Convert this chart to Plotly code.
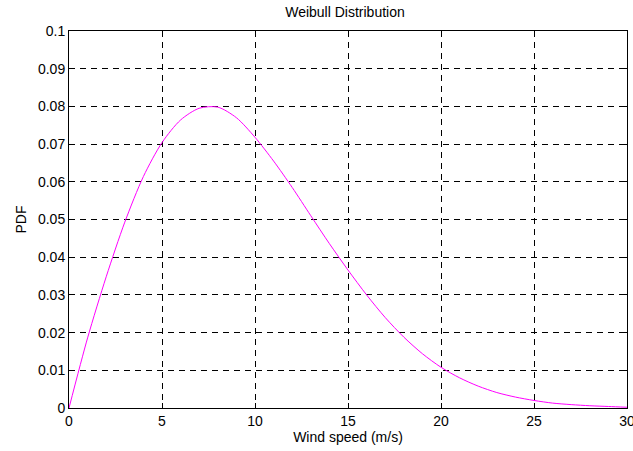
import plotly.graph_objects as go

# Wind speed samples (m/s) and the Weibull probability density read at each
wind_speed = [0, 1, 2, 3, 4, 5, 6, 7, 8, 9, 10, 11, 12, 13, 14, 15,
              16, 17, 18, 19, 20, 21, 22, 23, 24, 25, 26, 27, 28, 29, 30]
pdf_values = [0.0000, 0.0186, 0.0348, 0.0493, 0.0614, 0.0704, 0.0764, 0.0795,
              0.0798, 0.0770, 0.0718, 0.0655, 0.0585, 0.0510, 0.0436, 0.0366,
              0.0300, 0.0240, 0.0188, 0.0144, 0.0108, 0.0080, 0.0058, 0.0041,
              0.0029, 0.0020, 0.0013, 0.0009, 0.0006, 0.0004, 0.0002]

x_ticks = [0, 5, 10, 15, 20, 25, 30]
x_tick_text = ["0", "5", "10", "15", "20", "25", "30"]
y_ticks = [0, 0.01, 0.02, 0.03, 0.04, 0.05, 0.06, 0.07, 0.08, 0.09, 0.1]
y_tick_text = ["0", "0.01", "0.02", "0.03", "0.04", "0.05", "0.06",
               "0.07", "0.08", "0.09", "0.1"]

FONT = "Liberation Sans, Arial, sans-serif"
FS = 14

fig = go.Figure()
fig.add_trace(go.Scatter(
    x=wind_speed, y=pdf_values, mode="lines",
    line=dict(color="#FF00FF", width=1, shape="spline", smoothing=0.8),
    showlegend=False, hoverinfo="skip",
))

axis_common = dict(
    showline=True, linecolor="black", linewidth=1, mirror="allticks",
    ticks="inside", ticklen=5, tickcolor="black", tickwidth=1,
    showgrid=True, gridcolor="black", gridwidth=1, griddash="6px,5px",
    zeroline=False, ticklabeloverflow="allow", automargin=False,
    tickfont=dict(family=FONT, size=FS, color="black"),
)

fig.update_xaxes(
    range=[0, 30], tickvals=x_ticks, ticktext=x_tick_text,
    title=dict(text="Wind speed (m/s)", font=dict(family=FONT, size=FS, color="black"),
               standoff=2),
    **axis_common,
)
fig.update_yaxes(
    range=[0, 0.1], tickvals=y_ticks, ticktext=y_tick_text,
    title=dict(text="PDF", font=dict(family=FONT, size=FS, color="black"),
               standoff=8),
    **axis_common,
)

fig.update_layout(
    width=633, height=451,
    margin=dict(l=69, r=6, t=31, b=43, autoexpand=False),
    paper_bgcolor="white", plot_bgcolor="white",
    title=dict(text="Weibull Distribution", x=0.545, xanchor="center",
               y=0.985, yanchor="top",
               font=dict(family=FONT, size=FS, color="black")),
)

fig.write_html("out.html")
